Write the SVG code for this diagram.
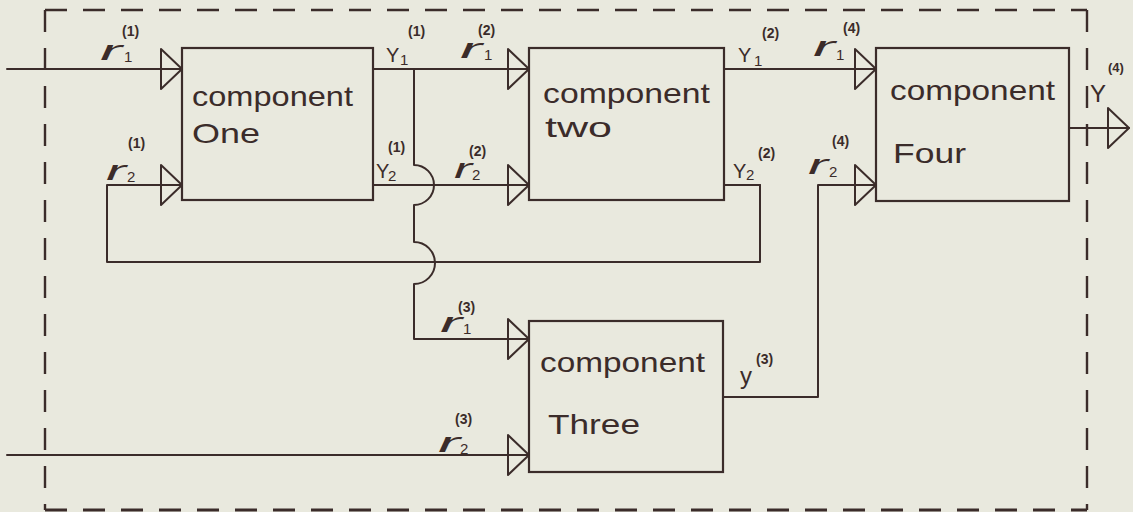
<svg xmlns="http://www.w3.org/2000/svg" width="1133" height="512" viewBox="0 0 1133 512">
<style>
.ln{fill:none;stroke:#3b2c2a;stroke-width:2;stroke-linecap:round;stroke-linejoin:round}
.dash{fill:none;stroke:#3b2c2a;stroke-width:2.4;stroke-dasharray:22 16}
.box{fill:none;stroke:#3b2c2a;stroke-width:2.2}
.t{font-family:"Liberation Sans","DejaVu Sans",sans-serif;font-size:28px;fill:#3b2c2a}
.r{font-family:"Liberation Sans","DejaVu Sans",sans-serif;font-style:italic;font-size:28px;fill:#3b2c2a}
.v{font-family:"Liberation Sans",sans-serif;font-size:20px;fill:#3b2c2a}
.s{font-family:"Liberation Sans",sans-serif;font-size:15px;fill:#3b2c2a}
.p{font-family:"Liberation Sans",sans-serif;font-size:14px;font-weight:bold;fill:#3b2c2a}
</style>
<defs>
<marker id="tri" markerUnits="userSpaceOnUse" markerWidth="24" markerHeight="44" refX="22" refY="21" orient="auto">
<path d="M1 1 L22 21 L1 41 Z" fill="none" stroke="#3b2c2a" stroke-width="2" stroke-linejoin="round"/>
</marker>
</defs>
<rect width="1133" height="512" fill="#e9e9de"/>

<g id="boundary">
<path class="dash" d="M45 10 H1087"/>
<path class="dash" d="M1087 10 V510"/>
<path class="dash" d="M45 10 V510"/>
<path class="dash" d="M45 510 H1087" style="stroke-width:3"/>
</g>

<g id="connectors">
<path class="ln" d="M7 69 H182" marker-end="url(#tri)"/>
<path class="ln" d="M760 185 V262 H107 V185 H182" marker-end="url(#tri)"/>
<path class="ln" d="M724 185 H760"/>
<path class="ln" d="M373 69 H529" marker-end="url(#tri)"/>
<path class="ln" d="M373 185 H529" marker-end="url(#tri)"/>
<path class="ln" d="M414 69 V165 A20 20 0 0 1 414 205 V242 A21 21 0 0 1 414 284 V339 H529" marker-end="url(#tri)"/>
<path class="ln" d="M7 455 H529" marker-end="url(#tri)"/>
<path class="ln" d="M724 69 H876" marker-end="url(#tri)"/>
<path class="ln" d="M723 397 H818 V185 H876" marker-end="url(#tri)"/>
<path class="ln" d="M1069 128 H1129" marker-end="url(#tri)"/>
</g>

<g id="component-one">
<rect class="box" x="182" y="48" width="191" height="152"/>
<text class="t" x="192" y="106" textLength="161" lengthAdjust="spacingAndGlyphs">component</text>
<text class="t" x="192" y="143" textLength="68" lengthAdjust="spacingAndGlyphs">One</text>
</g>
<g id="component-two">
<rect class="box" x="529" y="48" width="195" height="152"/>
<text class="t" x="543" y="103" textLength="167" lengthAdjust="spacingAndGlyphs">component</text>
<text class="t" x="545" y="137" textLength="67" lengthAdjust="spacingAndGlyphs">two</text>
</g>
<g id="component-three">
<rect class="box" x="529" y="321" width="194" height="151"/>
<text class="t" x="540" y="372" textLength="165" lengthAdjust="spacingAndGlyphs">component</text>
<text class="t" x="548" y="434" textLength="92" lengthAdjust="spacingAndGlyphs">Three</text>
</g>
<g id="component-four">
<rect class="box" x="876" y="48" width="193" height="153"/>
<text class="t" x="890" y="100" textLength="165" lengthAdjust="spacingAndGlyphs">component</text>
<text class="t" x="893" y="163" textLength="73" lengthAdjust="spacingAndGlyphs">Four</text>
</g>

<g id="labels">
<text class="r" x="100" y="60" textLength="22" lengthAdjust="spacingAndGlyphs">r</text><text class="s" x="124" y="62">1</text><text class="p" x="122" y="36">(1)</text>
<text class="r" x="106" y="180" textLength="20" lengthAdjust="spacingAndGlyphs">r</text><text class="s" x="127" y="182">2</text><text class="p" x="128" y="148">(1)</text>
<text class="v" x="386" y="62">Y</text><text class="s" x="400" y="65">1</text><text class="p" x="408" y="36">(1)</text>
<text class="v" x="376" y="178">Y</text><text class="s" x="388" y="181">2</text><text class="p" x="388" y="152">(1)</text>
<text class="r" x="460" y="58" textLength="22" lengthAdjust="spacingAndGlyphs">r</text><text class="s" x="484" y="60">1</text><text class="p" x="478" y="35">(2)</text>
<text class="r" x="454" y="178" textLength="18" lengthAdjust="spacingAndGlyphs">r</text><text class="s" x="472" y="180">2</text><text class="p" x="469" y="156">(2)</text>
<text class="v" x="738" y="62">Y</text><text class="s" x="754" y="66">1</text><text class="p" x="762" y="38">(2)</text>
<text class="v" x="733" y="178">Y</text><text class="s" x="746" y="180">2</text><text class="p" x="758" y="158">(2)</text>
<text class="r" x="813" y="56" textLength="22" lengthAdjust="spacingAndGlyphs">r</text><text class="s" x="836" y="60">1</text><text class="p" x="843" y="33">(4)</text>
<text class="r" x="808" y="174" textLength="20" lengthAdjust="spacingAndGlyphs">r</text><text class="s" x="829" y="177">2</text><text class="p" x="832" y="146">(4)</text>
<text class="v" x="1090" y="102" style="font-size:24px">Y</text><text class="p" x="1108" y="72" style="font-size:13px">(4)</text>
<text class="r" x="440" y="332" textLength="22" lengthAdjust="spacingAndGlyphs">r</text><text class="s" x="463" y="334">1</text><text class="p" x="458" y="312">(3)</text>
<text class="v" x="740" y="384" style="font-size:24px">y</text><text class="p" x="756" y="364">(3)</text>
<text class="r" x="438" y="452" textLength="22" lengthAdjust="spacingAndGlyphs">r</text><text class="s" x="460" y="454">2</text><text class="p" x="455" y="424">(3)</text>
</g>
</svg>
